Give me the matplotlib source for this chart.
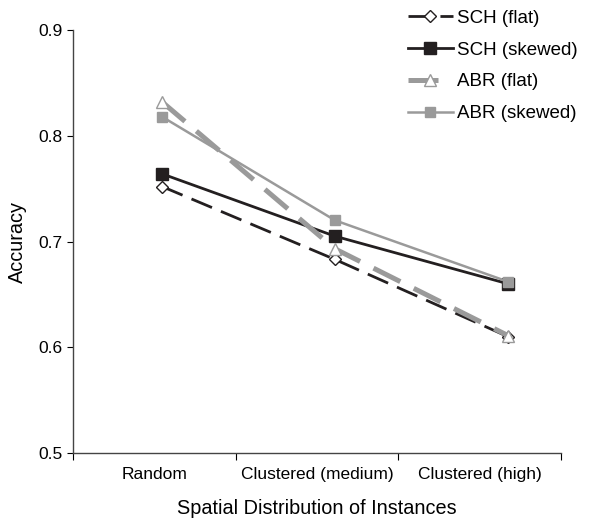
import matplotlib
matplotlib.use("Agg")
import matplotlib.pyplot as plt
import numpy as np

plt.rcParams["font.family"] = ["Liberation Sans", "DejaVu Sans"]

# data
categories = ["Random", "Clustered (medium)", "Clustered (high)"]
sch_flat = [0.752, 0.683, 0.610]
sch_skewed = [0.764, 0.705, 0.660]
abr_flat = [0.832, 0.693, 0.611]
abr_skewed = [0.818, 0.720, 0.662]
y_ticks = [0.5, 0.6, 0.7, 0.8, 0.9]

BLACK = "#231f20"
GRAY = "#9a9a9a"

fig = plt.figure(figsize=(5.96, 5.18), dpi=100)
ax = fig.add_axes([0.123, 0.1255, 0.818, 0.8165])

x = np.arange(len(categories))

ax.plot(x, sch_flat, color=BLACK, lw=2.0, dashes=(8, 3.5),
        marker="D", ms=6.5, mfc="white", mec=BLACK, mew=1.0,
        label="SCH (flat)", zorder=3)
ax.plot(x, sch_skewed, color=BLACK, lw=2.0,
        marker="s", ms=9, mfc=BLACK, mec=BLACK,
        label="SCH (skewed)", zorder=3)
ax.plot(x, abr_flat, color=GRAY, lw=3.6, dashes=(6, 3),
        marker="^", ms=9, mfc="white", mec=GRAY, mew=1.0,
        label="ABR (flat)", zorder=4)
ax.plot(x, abr_skewed, color=GRAY, lw=1.8,
        marker="s", ms=7, mfc=GRAY, mec=GRAY,
        label="ABR (skewed)", zorder=4)

# category axis: boundary ticks, labels centered between them
x0, x1 = -0.513, 2.305
ax.set_xlim(x0, x1)
bounds = np.linspace(x0, x1, len(categories) + 1)
ax.set_xticks(bounds)
ax.set_xticklabels([])
ax.set_xticks((bounds[:-1] + bounds[1:]) / 2, minor=True)
ax.set_xticklabels(categories, minor=True, fontsize=12.5)
ax.tick_params(axis="x", which="minor", length=0, pad=10)
ax.tick_params(axis="x", which="major", length=5, direction="out")

ax.set_ylim(0.5, 0.9)
ax.set_yticks(y_ticks)
ax.set_yticklabels([f"{v:.1f}" for v in y_ticks], fontsize=12.5)
ax.tick_params(axis="y", length=4, direction="out", pad=4)

for side in ["top", "right"]:
    ax.spines[side].set_visible(False)
for side in ["left", "bottom"]:
    ax.spines[side].set_color("#444444")
    ax.spines[side].set_linewidth(1.0)

ax.set_xlabel("Spatial Distribution of Instances", fontsize=14.3, labelpad=12)
ax.set_ylabel("Accuracy", fontsize=14.3, labelpad=8)

fig.legend(loc="upper left", bbox_to_anchor=(0.684, 0.981), frameon=False,
           fontsize=13.5, labelspacing=0.78, handlelength=2.4,
           handletextpad=0.25, borderpad=0, borderaxespad=0)

fig.savefig("out.png", dpi=100)
plt.close(fig)
